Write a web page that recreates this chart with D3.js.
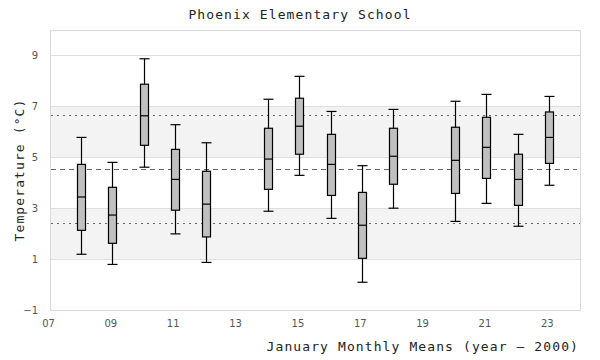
<!DOCTYPE html>
<html>
<head>
<meta charset="utf-8">
<script src="https://cdn.jsdelivr.net/npm/d3@7"></script>
<style>
  html, body { margin: 0; padding: 0; background: #fff; }
  svg { display: block; }
</style>
</head>
<body>
<svg id="chart" width="600" height="360"></svg>
<script>
// ---- data ----
const years       = [8, 9, 10, 11, 12, 14, 15, 16, 17, 18, 20, 21, 22, 23];
const whiskerLow  = [1.19, 0.79, 4.61, 1.99, 0.87, 2.88, 4.29, 2.60, 0.09, 3.00, 2.48, 3.19, 2.29, 3.90];
const q1          = [2.13, 1.62, 5.47, 2.92, 1.87, 3.74, 5.12, 3.50, 1.03, 3.94, 3.58, 4.17, 3.11, 4.76];
const medians     = [3.44, 2.73, 6.63, 4.13, 3.16, 4.93, 6.22, 4.72, 2.33, 5.04, 4.88, 5.39, 4.13, 5.78];
const q3          = [4.72, 3.82, 7.87, 5.31, 4.45, 6.14, 7.32, 5.90, 3.62, 6.14, 6.18, 6.57, 5.12, 6.78];
const whiskerHigh = [5.78, 4.80, 8.87, 6.28, 5.57, 7.28, 8.18, 6.80, 4.67, 6.88, 7.20, 7.47, 5.90, 7.39];
const meanLine = 4.53;
const sdLines  = [6.67, 2.40];
const bands    = [[1, 3], [5, 7]];
const xTicks   = [7, 9, 11, 13, 15, 17, 19, 21, 23];
const yTicks   = [-1, 1, 3, 5, 7, 9];
const titleText  = "Phoenix Elementary School";
const xTitleText = "January Monthly Means (year \u2013 2000)";
const yTitleText = "Temperature (\u00B0C)";

// ---- layout ----
const svg = d3.select("#chart");
const L = 50, R = 580, T = 30, B = 310;
const x = d3.scaleLinear().domain([7, 24]).range([L, R]);
const y = d3.scaleLinear().domain([-1, 10]).range([B, T]);
const monoFont = "'DejaVu Sans Mono', monospace";
const tickFont = "'DejaVu Sans', sans-serif";

// bands
svg.append("g").selectAll("rect").data(bands).join("rect")
  .attr("x", L).attr("width", R - L)
  .attr("y", d => y(d[1])).attr("height", d => y(d[0]) - y(d[1]))
  .attr("fill", "#f3f3f3");

// grid lines
svg.append("g").selectAll("line").data(yTicks.filter(v => v > -1)).join("line")
  .attr("x1", L).attr("x2", R)
  .attr("y1", d => Math.round(y(d)) + 0.5).attr("y2", d => Math.round(y(d)) + 0.5)
  .attr("stroke", "#dedede").attr("stroke-width", 1);

// frame
svg.append("rect")
  .attr("x", L + 0.5).attr("y", T + 0.5)
  .attr("width", R - L).attr("height", B - T)
  .attr("fill", "none").attr("stroke", "#dadada").attr("stroke-width", 1);

// reference lines
svg.append("line")
  .attr("x1", L + 1).attr("x2", R - 3)
  .attr("y1", Math.round(y(meanLine)) + 0.5).attr("y2", Math.round(y(meanLine)) + 0.5)
  .attr("stroke", "#666").attr("stroke-width", 1).attr("stroke-dasharray", "5,4");
svg.append("g").selectAll("line").data(sdLines).join("line")
  .attr("x1", L + 1).attr("x2", R)
  .attr("y1", d => Math.round(y(d)) + 0.5).attr("y2", d => Math.round(y(d)) + 0.5)
  .attr("stroke", "#666").attr("stroke-width", 1).attr("stroke-dasharray", "2,4");

// axes (tick labels only)
const yAxis = d3.axisLeft(y).tickValues(yTicks).tickSize(0).tickPadding(12).tickFormat(d3.format("d"));
const gy = svg.append("g").attr("transform", `translate(${L},0)`).call(yAxis);
gy.select(".domain").remove();
gy.selectAll("text").attr("font-family", tickFont).attr("font-size", 10).attr("fill", "#555");

const xAxis = d3.axisBottom(x).tickValues(xTicks).tickSize(0).tickPadding(10).tickFormat(d3.format("02d"));
const gx = svg.append("g").attr("transform", `translate(-2,${B})`).call(xAxis);
gx.select(".domain").remove();
gx.selectAll("text").attr("font-family", tickFont).attr("font-size", 10).attr("fill", "#555");

// boxes
const boxW = 8, capW = 9;
const rows = years.map((yr, i) => ({yr, lo: whiskerLow[i], q1: q1[i], med: medians[i], q3: q3[i], hi: whiskerHigh[i]}));
const gb = svg.append("g").selectAll("g").data(rows).join("g");
const cx = d => Math.round(x(d.yr)) + 0.5;
gb.append("line")
  .attr("x1", cx).attr("x2", cx)
  .attr("y1", d => y(d.hi)).attr("y2", d => y(d.lo))
  .attr("stroke", "#000").attr("stroke-width", 1.2);
gb.append("line")
  .attr("x1", d => cx(d) - capW / 2 - 0.5).attr("x2", d => cx(d) + capW / 2 + 0.5)
  .attr("y1", d => y(d.hi)).attr("y2", d => y(d.hi))
  .attr("stroke", "#000").attr("stroke-width", 1.2);
gb.append("line")
  .attr("x1", d => cx(d) - capW / 2 - 0.5).attr("x2", d => cx(d) + capW / 2 + 0.5)
  .attr("y1", d => y(d.lo)).attr("y2", d => y(d.lo))
  .attr("stroke", "#000").attr("stroke-width", 1.2);
gb.append("rect")
  .attr("x", d => cx(d) - boxW / 2).attr("width", boxW)
  .attr("y", d => y(d.q3)).attr("height", d => y(d.q1) - y(d.q3))
  .attr("fill", "#c0c0c0").attr("stroke", "#000").attr("stroke-width", 1.2);
gb.append("line")
  .attr("x1", d => cx(d) - boxW / 2).attr("x2", d => cx(d) + boxW / 2)
  .attr("y1", d => y(d.med)).attr("y2", d => y(d.med))
  .attr("stroke", "#000").attr("stroke-width", 1.2);

// titles
svg.append("text")
  .attr("x", 300).attr("y", 19)
  .attr("text-anchor", "middle")
  .attr("font-family", monoFont).attr("font-size", 13).attr("letter-spacing", 1.1)
  .attr("fill", "#222")
  .text(titleText);
svg.append("text")
  .attr("x", 579).attr("y", 351)
  .attr("text-anchor", "end")
  .attr("font-family", monoFont).attr("font-size", 13).attr("letter-spacing", 1.1)
  .attr("fill", "#222")
  .text(xTitleText);
svg.append("text")
  .attr("transform", `translate(24,${(T + B) / 2}) rotate(-90)`)
  .attr("text-anchor", "middle")
  .attr("font-family", monoFont).attr("font-size", 13).attr("letter-spacing", 1.1)
  .attr("fill", "#222")
  .text(yTitleText);
</script>
</body>
</html>
